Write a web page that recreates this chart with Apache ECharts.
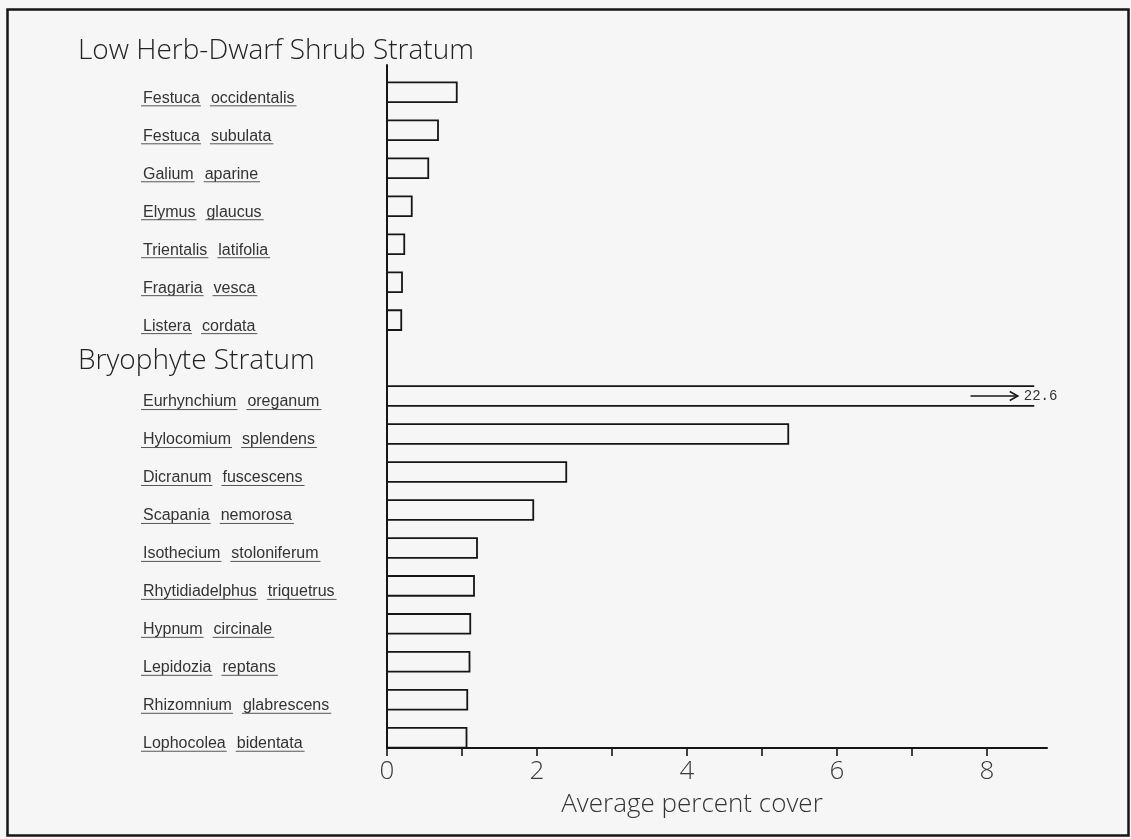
<!DOCTYPE html>
<html><head><meta charset="utf-8">
<script src="https://cdn.jsdelivr.net/npm/echarts@6/dist/echarts.min.js"></script>
<style>html,body{margin:0;padding:0;background:#f6f6f6}#c{width:1131px;height:839px}</style>
</head><body><div id="c"></div><script>
// ---- data ----
const strata = ['Low Herb-Dwarf Shrub Stratum', 'Bryophyte Stratum'];
const herbGenus   = ['Festuca', 'Festuca', 'Galium', 'Elymus', 'Trientalis', 'Fragaria', 'Listera'];
const herbSpecies = ['occidentalis', 'subulata', 'aparine', 'glaucus', 'latifolia', 'vesca', 'cordata'];
const herbCover   = [0.93, 0.68, 0.55, 0.33, 0.23, 0.20, 0.19];
const bryoGenus   = ['Eurhynchium', 'Hylocomium', 'Dicranum', 'Scapania', 'Isothecium', 'Rhytidiadelphus', 'Hypnum', 'Lepidozia', 'Rhizomnium', 'Lophocolea'];
const bryoSpecies = ['oreganum', 'splendens', 'fuscescens', 'nemorosa', 'stoloniferum', 'triquetrus', 'circinale', 'reptans', 'glabrescens', 'bidentata'];
const bryoCover   = [22.6, 5.35, 2.39, 1.95, 1.20, 1.16, 1.11, 1.10, 1.07, 1.06];
const xTicks      = [0, 1, 2, 3, 4, 5, 6, 7, 8];
const xTickLabels = [0, 2, 4, 6, 8];
const axisTitle   = 'Average percent cover';
const xMax = 8.8;          // end of the drawn value axis
const breakValue = 8.63;   // where the off-scale bar is cut

// ---- rows (slot index on the y scale) ----
const rows = [];
herbGenus.forEach((g, i) => rows.push({ slot: i, genus: g, species: herbSpecies[i], value: herbCover[i] }));
bryoGenus.forEach((g, i) => rows.push({ slot: herbGenus.length + 1 + i, genus: g, species: bryoSpecies[i], value: bryoCover[i] }));
const headingSlots = [-1.17, herbGenus.length];

const labelFont = '16px "Liberation Sans", Arial, sans-serif';
const headFont = '300 28px "Open Sans", Lato, sans-serif';
const ctx = document.createElement('canvas').getContext('2d');
function textW(t, f) { ctx.font = f; return ctx.measureText(t).width; }

const INK = '#161616';
const chart = echarts.init(document.getElementById('c'), null, { renderer: 'canvas' });

chart.setOption({
  backgroundColor: '#f6f6f6',
  animation: false,
  grid: { left: 387, right: 84, top: 65, bottom: 91 },
  xAxis: {
    type: 'value', min: 0, max: xMax,
    axisLine: { show: true, onZero: false, lineStyle: { color: INK, width: 2 } },
    axisTick: { show: true, customValues: xTicks, length: 8, lineStyle: { color: INK, width: 1.6 } },
    axisLabel: { customValues: xTickLabels, color: '#3a3a3a', fontSize: 26, fontWeight: 300, fontFamily: '"Open Sans", Lato, sans-serif', margin: 11 },
    splitLine: { show: false },
    name: axisTitle, nameLocation: 'middle', nameGap: 44,
    nameTextStyle: { color: '#333', fontSize: 26, fontWeight: 300, fontFamily: '"Open Sans", Lato, sans-serif', padding: [0, 50, 0, 0] }
  },
  yAxis: {
    type: 'value', inverse: true, min: -0.72, max: 17.27,
    axisLine: { show: true, onZero: false, lineStyle: { color: INK, width: 2 } },
    axisTick: { show: false }, axisLabel: { show: false }, splitLine: { show: false }
  },
  graphic: [{
    type: 'rect', left: 5, top: 7, silent: true,
    shape: { width: 1121, height: 826 },
    style: { fill: 'none', stroke: INK, lineWidth: 2.5 }
  }],
  series: [
    {
      type: 'custom', name: 'cover', clip: false,
      data: rows.map(r => [r.value, r.slot]),
      renderItem(params, api) {
        const v = api.value(0), s = api.value(1);
        const a = api.coord([0, s - 0.26]);
        const b = api.coord([Math.min(v, breakValue), s + 0.26]);
        const x = a[0], y = Math.min(a[1], b[1]), w = b[0] - a[0], h = Math.abs(b[1] - a[1]);
        if (v <= xMax) {
          return { type: 'rect', shape: { x, y, width: w, height: h },
                   style: { fill: 'none', stroke: INK, lineWidth: 1.8 } };
        }
        const cy = api.coord([0, s])[1];
        const ax0 = api.coord([breakValue - 0.85, s])[0];
        const ax1 = api.coord([breakValue - 0.22, s])[0];
        const tx = api.coord([breakValue - 0.14, s])[0];
        return { type: 'group', children: [
          { type: 'line', shape: { x1: x, y1: y, x2: x + w, y2: y }, style: { stroke: INK, lineWidth: 1.8 } },
          { type: 'line', shape: { x1: x, y1: y + h, x2: x + w, y2: y + h }, style: { stroke: INK, lineWidth: 1.8 } },
          { type: 'line', shape: { x1: ax0, y1: cy, x2: ax1, y2: cy }, style: { stroke: INK, lineWidth: 1.6 } },
          { type: 'polyline', shape: { points: [[ax1 - 8, cy - 4.5], [ax1, cy], [ax1 - 8, cy + 4.5]] }, style: { fill: 'none', stroke: INK, lineWidth: 1.6 } },
          { type: 'text', x: tx, y: cy, style: { text: String(v), fill: '#333', font: '14px "Liberation Mono", "DejaVu Sans Mono", monospace', textVerticalAlign: 'middle' } }
        ] };
      }
    },
    {
      type: 'custom', name: 'names', clip: false, silent: true,
      data: rows.map((r, i) => [0, r.slot, i]),
      renderItem(params, api) {
        const r = rows[api.value(2)];
        const cy = api.coord([0, api.value(1)])[1] + 6;
        const x0 = 143;
        const wg = textW(r.genus, labelFont);
        const gap = 11;
        const ws = textW(r.species, labelFont);
        const x1 = x0 + wg + gap;
        const uy = cy + 7.5;
        const col = '#333';
        return { type: 'group', children: [
          { type: 'text', x: x0, y: cy, style: { text: r.genus, fill: col, font: labelFont, textVerticalAlign: 'middle' } },
          { type: 'text', x: x1, y: cy, style: { text: r.species, fill: col, font: labelFont, textVerticalAlign: 'middle' } },
          { type: 'line', shape: { x1: x0 - 2, y1: uy, x2: x0 + wg + 1, y2: uy }, style: { stroke: '#555', lineWidth: 1 } },
          { type: 'line', shape: { x1: x1 - 1, y1: uy, x2: x1 + ws + 2, y2: uy }, style: { stroke: '#555', lineWidth: 1 } }
        ] };
      }
    },
    {
      type: 'custom', name: 'strata', clip: false, silent: true,
      data: strata.map((t, i) => [0, headingSlots[i], i]),
      renderItem(params, api) {
        const cy = api.coord([0, api.value(1)])[1] + 3;
        return { type: 'text', x: 78, y: cy, style: { text: strata[api.value(2)], fill: '#222', font: headFont, textVerticalAlign: 'middle' } };
      }
    }
  ]
});
</script></body></html>
